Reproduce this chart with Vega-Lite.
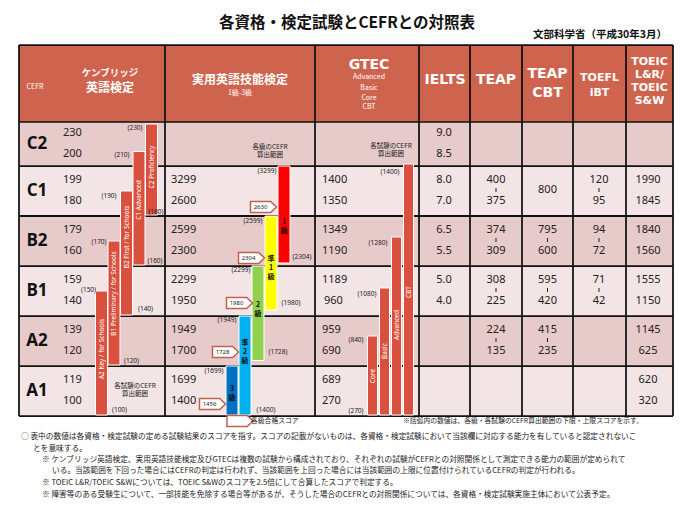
{
  "$schema": "https://vega.github.io/schema/vega-lite/v6.json",
  "width": 700,
  "height": 508,
  "padding": 0,
  "autosize": "none",
  "background": "white",
  "config": {"view": {"stroke": null}, "text": {"baseline": "middle", "font": "Noto Sans CJK JP"}},
  "datasets": {
    "rows": [
      {"row": "header", "tone": "header", "x": 19, "xe": 673, "lv": 5.88, "lve": 7.42},
      {"row": "C2", "tone": "dark", "x": 19, "xe": 673, "lv": 5, "lve": 5.88},
      {"row": "C1", "tone": "light", "x": 19, "xe": 673, "lv": 4, "lve": 5},
      {"row": "B2", "tone": "dark", "x": 19, "xe": 673, "lv": 3, "lve": 4},
      {"row": "B1", "tone": "light", "x": 19, "xe": 673, "lv": 2, "lve": 3},
      {"row": "A2", "tone": "dark", "x": 19, "xe": 673, "lv": 1, "lve": 2},
      {"row": "A1", "tone": "light", "x": 19, "xe": 673, "lv": 0, "lve": 1}
    ],
    "lines": [
      {"x": 19, "xe": 673, "lv": 0, "lve": 0, "w": "n"},
      {"x": 19, "xe": 673, "lv": 1, "lve": 1, "w": "n"},
      {"x": 19, "xe": 673, "lv": 2, "lve": 2, "w": "n"},
      {"x": 19, "xe": 673, "lv": 3, "lve": 3, "w": "n"},
      {"x": 19, "xe": 673, "lv": 4, "lve": 4, "w": "b"},
      {"x": 19, "xe": 673, "lv": 5, "lve": 5, "w": "n"},
      {"x": 19, "xe": 673, "lv": 5.88, "lve": 5.88, "w": "t"},
      {"x": 19, "xe": 673, "lv": 7.42, "lve": 7.42, "w": "n"},
      {"x": 19, "xe": 19, "lv": 0, "lve": 7.42, "w": "n"},
      {"x": 165, "xe": 165, "lv": 0, "lve": 7.42, "w": "n"},
      {"x": 315, "xe": 315, "lv": 0, "lve": 7.42, "w": "n"},
      {"x": 419, "xe": 419, "lv": 0, "lve": 7.42, "w": "n"},
      {"x": 470, "xe": 470, "lv": 0, "lve": 7.42, "w": "n"},
      {"x": 522, "xe": 522, "lv": 0, "lve": 7.42, "w": "n"},
      {"x": 573, "xe": 573, "lv": 0, "lve": 7.42, "w": "n"},
      {"x": 626, "xe": 626, "lv": 0, "lve": 7.42, "w": "n"},
      {"x": 673, "xe": 673, "lv": 0, "lve": 7.42, "w": "n"}
    ],
    "bars": [
      {"name": "A2 Key", "x": 95.5, "xe": 107.5, "lv": 0.02, "lve": 2.5},
      {"name": "B1 Preliminary", "x": 108, "xe": 120, "lv": 1.02, "lve": 3.5},
      {"name": "B2 First", "x": 120.5, "xe": 132.5, "lv": 2.02, "lve": 4.5},
      {"name": "C1 Advanced", "x": 133, "xe": 145, "lv": 3.02, "lve": 5.29},
      {"name": "C2 Proficiency", "x": 145.5, "xe": 157.5, "lv": 4.02, "lve": 5.84},
      {"name": "3級", "x": 226, "xe": 238, "lv": 0.02, "lve": 1.0},
      {"name": "準2級", "x": 239, "xe": 251, "lv": 0.02, "lve": 2.0},
      {"name": "2級", "x": 252, "xe": 264, "lv": 1.11, "lve": 3.0},
      {"name": "準1級", "x": 265, "xe": 277, "lv": 2.12, "lve": 4.0},
      {"name": "1級", "x": 278, "xe": 290, "lv": 3.06, "lve": 5.0},
      {"name": "Core", "x": 367.5, "xe": 377.5, "lv": 0.02, "lve": 1.6},
      {"name": "Basic", "x": 379.5, "xe": 389.5, "lv": 0.02, "lve": 2.56},
      {"name": "Advanced", "x": 391.5, "xe": 401.5, "lv": 0.02, "lve": 3.58},
      {"name": "CBT", "x": 403.5, "xe": 413.5, "lv": 0.02, "lve": 5.04}
    ],
    "cefr": [
      {"t": "C2", "x": 37, "lv": 5.45},
      {"t": "C1", "x": 37, "lv": 4.5},
      {"t": "B2", "x": 37, "lv": 3.5},
      {"t": "B1", "x": 37, "lv": 2.5},
      {"t": "A2", "x": 37, "lv": 1.5},
      {"t": "A1", "x": 37, "lv": 0.5}
    ],
    "cellsLeft": [
      {"t": "230", "x": 63, "lv": 5.66}, {"t": "200", "x": 63, "lv": 5.24},
      {"t": "199", "x": 63, "lv": 4.72}, {"t": "180", "x": 63, "lv": 4.31},
      {"t": "179", "x": 63, "lv": 3.72}, {"t": "160", "x": 63, "lv": 3.31},
      {"t": "159", "x": 63, "lv": 2.72}, {"t": "140", "x": 63, "lv": 2.31},
      {"t": "139", "x": 63, "lv": 1.72}, {"t": "120", "x": 63, "lv": 1.31},
      {"t": "119", "x": 63, "lv": 0.72}, {"t": "100", "x": 63, "lv": 0.31},
      {"t": "3299", "x": 171, "lv": 4.72}, {"t": "2600", "x": 171, "lv": 4.31},
      {"t": "2599", "x": 171, "lv": 3.72}, {"t": "2300", "x": 171, "lv": 3.31},
      {"t": "2299", "x": 171, "lv": 2.72}, {"t": "1950", "x": 171, "lv": 2.31},
      {"t": "1949", "x": 171, "lv": 1.72}, {"t": "1700", "x": 171, "lv": 1.31},
      {"t": "1699", "x": 171, "lv": 0.72}, {"t": "1400", "x": 171, "lv": 0.31},
      {"t": "1400", "x": 322, "lv": 4.72}, {"t": "1350", "x": 322, "lv": 4.31},
      {"t": "1349", "x": 322, "lv": 3.72}, {"t": "1190", "x": 322, "lv": 3.31},
      {"t": "1189", "x": 322, "lv": 2.72}, {"t": "960", "x": 324, "lv": 2.31},
      {"t": "959", "x": 322, "lv": 1.72}, {"t": "690", "x": 322, "lv": 1.31},
      {"t": "689", "x": 322, "lv": 0.72}, {"t": "270", "x": 322, "lv": 0.31}
    ],
    "cellsCenter": [
      {"t": "9.0", "x": 444, "lv": 5.66}, {"t": "8.5", "x": 444, "lv": 5.24},
      {"t": "8.0", "x": 444, "lv": 4.72}, {"t": "7.0", "x": 444, "lv": 4.31},
      {"t": "6.5", "x": 444, "lv": 3.72}, {"t": "5.5", "x": 444, "lv": 3.31},
      {"t": "5.0", "x": 444, "lv": 2.72}, {"t": "4.0", "x": 444, "lv": 2.31},
      {"t": "400", "x": 496, "lv": 4.72}, {"t": "375", "x": 496, "lv": 4.31},
      {"t": "374", "x": 496, "lv": 3.72}, {"t": "309", "x": 496, "lv": 3.31},
      {"t": "308", "x": 496, "lv": 2.72}, {"t": "225", "x": 496, "lv": 2.31},
      {"t": "224", "x": 496, "lv": 1.72}, {"t": "135", "x": 496, "lv": 1.31},
      {"t": "800", "x": 547.5, "lv": 4.52},
      {"t": "795", "x": 547.5, "lv": 3.72}, {"t": "600", "x": 547.5, "lv": 3.31},
      {"t": "595", "x": 547.5, "lv": 2.72}, {"t": "420", "x": 547.5, "lv": 2.31},
      {"t": "415", "x": 547.5, "lv": 1.72}, {"t": "235", "x": 547.5, "lv": 1.31},
      {"t": "120", "x": 599, "lv": 4.72}, {"t": "95", "x": 599, "lv": 4.31},
      {"t": "94", "x": 599, "lv": 3.72}, {"t": "72", "x": 599, "lv": 3.31},
      {"t": "71", "x": 599, "lv": 2.72}, {"t": "42", "x": 599, "lv": 2.31},
      {"t": "1990", "x": 648, "lv": 4.72}, {"t": "1845", "x": 648, "lv": 4.31},
      {"t": "1840", "x": 648, "lv": 3.72}, {"t": "1560", "x": 648, "lv": 3.31},
      {"t": "1555", "x": 648, "lv": 2.72}, {"t": "1150", "x": 648, "lv": 2.31},
      {"t": "1145", "x": 648, "lv": 1.72}, {"t": "625", "x": 648, "lv": 1.31},
      {"t": "620", "x": 648, "lv": 0.72}, {"t": "320", "x": 648, "lv": 0.31}
    ],
    "ticks": [
      {"x": 496, "lv": 4.48, "lve": 4.56}, {"x": 496, "lv": 3.48, "lve": 3.56},
      {"x": 496, "lv": 2.48, "lve": 2.56}, {"x": 496, "lv": 1.48, "lve": 1.56},
      {"x": 547.5, "lv": 3.48, "lve": 3.56}, {"x": 547.5, "lv": 2.48, "lve": 2.56},
      {"x": 547.5, "lv": 1.48, "lve": 1.56},
      {"x": 599, "lv": 4.48, "lve": 4.56}, {"x": 599, "lv": 3.48, "lve": 3.56},
      {"x": 599, "lv": 2.48, "lve": 2.56}
    ],
    "ranges": [
      {"t": "(230)", "x": 135, "lv": 5.76}, {"t": "(210)", "x": 122, "lv": 5.22},
      {"t": "(190)", "x": 109, "lv": 4.4}, {"t": "(170)", "x": 99, "lv": 3.48},
      {"t": "(150)", "x": 88.5, "lv": 2.53}, {"t": "(180)", "x": 156, "lv": 4.08},
      {"t": "(160)", "x": 155, "lv": 3.1}, {"t": "(140)", "x": 145.5, "lv": 2.14},
      {"t": "(120)", "x": 131.5, "lv": 1.1}, {"t": "(100)", "x": 119.5, "lv": 0.12},
      {"t": "(3299)", "x": 267, "lv": 4.9}, {"t": "(2599)", "x": 253, "lv": 3.9},
      {"t": "(2299)", "x": 241, "lv": 2.92}, {"t": "(1949)", "x": 227, "lv": 1.92},
      {"t": "(1699)", "x": 214, "lv": 0.9}, {"t": "(2304)", "x": 302, "lv": 3.18},
      {"t": "(1980)", "x": 291, "lv": 2.26}, {"t": "(1728)", "x": 278, "lv": 1.28},
      {"t": "(1400)", "x": 266, "lv": 0.12},
      {"t": "(1400)", "x": 390, "lv": 4.88}, {"t": "(1280)", "x": 378, "lv": 3.46},
      {"t": "(1080)", "x": 367, "lv": 2.44}, {"t": "(840)", "x": 356, "lv": 1.52},
      {"t": "(270)", "x": 356, "lv": 0.1}
    ],
    "barLabels": [
      {"t": "A2 Key / for Schools", "x": 101.5, "lv": 1.34},
      {"t": "B1 Preliminary / for Schools", "x": 114, "lv": 2.45},
      {"t": "B2 First / for Schools", "x": 126.5, "lv": 3.58},
      {"t": "C1 Advanced", "x": 139, "lv": 4.32},
      {"t": "C2 Proficiency", "x": 151.5, "lv": 4.98},
      {"t": "Core", "x": 372.5, "lv": 0.8},
      {"t": "Basic", "x": 384.5, "lv": 1.3},
      {"t": "Advanced", "x": 396.5, "lv": 1.82},
      {"t": "CBT", "x": 408.5, "lv": 2.48}
    ],
    "grades": [
      {"t": "1\n級", "x": 284, "lv": 3.88},
      {"t": "準\n1\n級", "x": 271, "lv": 3.14},
      {"t": "2\n級", "x": 258, "lv": 2.22},
      {"t": "準\n2\n級", "x": 245, "lv": 1.46},
      {"t": "3\n級", "x": 232, "lv": 0.54}
    ],
    "flags": [
      {"t": "2630", "x": 263.5, "lv": 4.18},
      {"t": "2304", "x": 251.5, "lv": 3.16},
      {"t": "1980", "x": 239.5, "lv": 2.26},
      {"t": "1728", "x": 225.5, "lv": 1.28},
      {"t": "1456", "x": 212.5, "lv": 0.24},
      {"t": "", "x": 240, "lv": -0.1}
    ],
    "notes": [
      {"t": "各級のCEFR", "x": 270, "lv": 5.39},
      {"t": "算出範囲", "x": 270, "lv": 5.22},
      {"t": "各試験のCEFR", "x": 391, "lv": 5.41},
      {"t": "算出範囲", "x": 391, "lv": 5.24},
      {"t": "各試験のCEFR", "x": 135, "lv": 0.61},
      {"t": "算出範囲", "x": 135, "lv": 0.44}
    ],
    "headBig": [
      {"t": "GTEC", "x": 369, "lv": 7.02},
      {"t": "IELTS", "x": 445, "lv": 6.72},
      {"t": "TEAP", "x": 496, "lv": 6.72},
      {"t": "TEAP", "x": 547.5, "lv": 6.84},
      {"t": "CBT", "x": 547.5, "lv": 6.46}
    ],
    "headMid": [
      {"t": "TOEFL", "x": 599.5, "lv": 6.76},
      {"t": "iBT", "x": 599.5, "lv": 6.46},
      {"t": "TOEIC", "x": 649.5, "lv": 7.08},
      {"t": "L&R/", "x": 649.5, "lv": 6.82},
      {"t": "TOEIC", "x": 649.5, "lv": 6.56},
      {"t": "S&W", "x": 649.5, "lv": 6.3}
    ],
    "headJa": [
      {"t": "英語検定", "x": 110, "lv": 6.56},
      {"t": "実用英語技能検定", "x": 240, "lv": 6.72}
    ],
    "headJaSmall": [
      {"t": "ケンブリッジ", "x": 110, "lv": 6.86}
    ],
    "headSmall": [
      {"t": "CEFR", "x": 35, "lv": 6.58},
      {"t": "1級-3級", "x": 240, "lv": 6.46},
      {"t": "Advanced", "x": 369, "lv": 6.78},
      {"t": "Basic", "x": 369, "lv": 6.57},
      {"t": "Core", "x": 369, "lv": 6.37},
      {"t": "CBT", "x": 369, "lv": 6.18}
    ],
    "title": [
      {"t": "各資格・検定試験とCEFRとの対照表", "x": 347, "lv": 7.86}
    ],
    "subtitle": [
      {"t": "文部科学省（平成30年3月）", "x": 667, "lv": 7.62}
    ],
    "legend": [
      {"t": "各級合格スコア", "x": 251, "lv": -0.1},
      {"t": "※括弧内の数値は、各級・各試験のCEFR算出範囲の下限・上限スコアを示す。", "x": 403, "lv": -0.1}
    ],
    "footnotes": [
      {"t": "○ 表中の数値は各資格・検定試験の定める試験結果のスコアを指す。スコアの記載がないものは、各資格・検定試験において当該欄に対応する能力を有していると認定されないこ", "x": 21, "lv": -0.42},
      {"t": "とを意味する。", "x": 33, "lv": -0.65},
      {"t": "※ ケンブリッジ英語検定、実用英語技能検定及びGTECは複数の試験から構成されており、それぞれの試験がCEFRとの対照関係として測定できる能力の範囲が定められて", "x": 42, "lv": -0.88},
      {"t": "いる。当該範囲を下回った場合にはCEFRの判定は行われず、当該範囲を上回った場合には当該範囲の上限に位置付けられているCEFRの判定が行われる。", "x": 52, "lv": -1.1},
      {"t": "※ TOEIC L&R/TOEIC S&Wについては、TOEIC S&Wのスコアを2.5倍にして合算したスコアで判定する。", "x": 42, "lv": -1.34},
      {"t": "※ 障害等のある受験生について、一部技能を免除する場合等があるが、そうした場合のCEFRとの対照関係については、各資格・検定試験実施主体において公表予定。", "x": 42, "lv": -1.58}
    ]
  },
  "encoding": {
    "x": {"field": "x", "type": "quantitative", "scale": {"domain": [0, 700], "nice": false, "zero": false}, "axis": null},
    "y": {"field": "lv", "type": "quantitative", "scale": {"domain": [-1.84, 8.32], "nice": false, "zero": false}, "axis": null}
  },
  "resolve": {"scale": {"color": "independent", "strokeWidth": "independent"}},
  "layer": [
    {
      "data": {"name": "rows"},
      "mark": {"type": "rect"},
      "encoding": {
        "x2": {"field": "xe"},
        "y2": {"field": "lve"},
        "color": {"field": "tone", "type": "nominal", "scale": {"domain": ["header", "dark", "light"], "range": ["#cf644e", "#e7caca", "#f3e5e5"]}, "legend": null}
      }
    },
    {
      "data": {"name": "lines"},
      "mark": {"type": "rule", "color": "#111111"},
      "encoding": {
        "x2": {"field": "xe"},
        "y2": {"field": "lve"},
        "strokeWidth": {"field": "w", "type": "nominal", "scale": {"domain": ["t", "n", "b"], "range": [1.5, 2, 3]}, "legend": null}
      }
    },
    {
      "data": {"name": "bars"},
      "mark": {"type": "rect", "stroke": "white", "strokeWidth": 1},
      "encoding": {
        "x2": {"field": "xe"},
        "y2": {"field": "lve"},
        "color": {"field": "name", "type": "nominal", "scale": {"domain": ["A2 Key", "B1 Preliminary", "B2 First", "C1 Advanced", "C2 Proficiency", "3級", "準2級", "2級", "準1級", "1級", "Core", "Basic", "Advanced", "CBT"], "range": ["#d9503e", "#d9503e", "#d9503e", "#d9503e", "#d9503e", "#0070c0", "#00b0f0", "#92d050", "#ffff00", "#ff0000", "#d9503e", "#d9503e", "#d9503e", "#d9503e"]}, "legend": null}
      }
    },
    {
      "data": {"name": "ticks"},
      "mark": {"type": "rule", "color": "#222222", "strokeWidth": 1},
      "encoding": {"y2": {"field": "lve"}}
    },
    {
      "data": {"name": "flags"},
      "mark": {"type": "point", "shape": "M-1,-0.42L0.55,-0.42L1,0L0.55,0.42L-1,0.42Z", "filled": true, "fill": "white", "stroke": "#c0604d", "strokeWidth": 1.5, "size": 676, "opacity": 1}
    },
    {
      "data": {"name": "flags"},
      "mark": {"type": "text", "fontSize": 6, "xOffset": -3, "color": "#222222", "font": "Noto Sans"},
      "encoding": {"text": {"field": "t"}}
    },
    {
      "data": {"name": "cefr"},
      "mark": {"type": "text", "fontSize": 17, "fontWeight": "bold", "align": "center", "color": "#111111", "font": "Open Sans"},
      "encoding": {"text": {"field": "t"}}
    },
    {
      "data": {"name": "cellsLeft"},
      "mark": {"type": "text", "fontSize": 11, "align": "left", "color": "#222222", "font": "Noto Sans"},
      "encoding": {"text": {"field": "t"}}
    },
    {
      "data": {"name": "cellsCenter"},
      "mark": {"type": "text", "fontSize": 11, "align": "center", "color": "#222222", "font": "Noto Sans"},
      "encoding": {"text": {"field": "t"}}
    },
    {
      "data": {"name": "ranges"},
      "mark": {"type": "text", "fontSize": 6.5, "align": "center", "color": "#222222", "font": "Noto Sans"},
      "encoding": {"text": {"field": "t"}}
    },
    {
      "data": {"name": "barLabels"},
      "mark": {"type": "text", "fontSize": 6.5, "align": "center", "angle": 270, "color": "white", "font": "Noto Sans"},
      "encoding": {"text": {"field": "t"}}
    },
    {
      "data": {"name": "grades"},
      "mark": {"type": "text", "fontSize": 7, "fontWeight": "bold", "align": "center", "lineBreak": "\n", "lineHeight": 9, "color": "#111111"},
      "encoding": {"text": {"field": "t"}}
    },
    {
      "data": {"name": "notes"},
      "mark": {"type": "text", "fontSize": 6.5, "align": "center", "color": "#222222"},
      "encoding": {"text": {"field": "t"}}
    },
    {
      "data": {"name": "headBig"},
      "mark": {"type": "text", "fontSize": 14, "fontWeight": "bold", "align": "center", "color": "white", "font": "DejaVu Sans"},
      "encoding": {"text": {"field": "t"}}
    },
    {
      "data": {"name": "headMid"},
      "mark": {"type": "text", "fontSize": 11, "fontWeight": "bold", "align": "center", "color": "white", "font": "DejaVu Sans"},
      "encoding": {"text": {"field": "t"}}
    },
    {
      "data": {"name": "headJa"},
      "mark": {"type": "text", "fontSize": 12, "fontWeight": "bold", "align": "center", "color": "white"},
      "encoding": {"text": {"field": "t"}}
    },
    {
      "data": {"name": "headJaSmall"},
      "mark": {"type": "text", "fontSize": 9.5, "fontWeight": "bold", "align": "center", "color": "white"},
      "encoding": {"text": {"field": "t"}}
    },
    {
      "data": {"name": "headSmall"},
      "mark": {"type": "text", "fontSize": 7, "align": "center", "color": "white", "font": "Noto Sans CJK JP"},
      "encoding": {"text": {"field": "t"}}
    },
    {
      "data": {"name": "title"},
      "mark": {"type": "text", "fontSize": 15.5, "fontWeight": "bold", "align": "center", "color": "#111111"},
      "encoding": {"text": {"field": "t"}}
    },
    {
      "data": {"name": "subtitle"},
      "mark": {"type": "text", "fontSize": 10.5, "fontWeight": "bold", "align": "right", "color": "#111111"},
      "encoding": {"text": {"field": "t"}}
    },
    {
      "data": {"name": "legend"},
      "mark": {"type": "text", "fontSize": 6.8, "align": "left", "color": "#222222"},
      "encoding": {"text": {"field": "t"}}
    },
    {
      "data": {"name": "footnotes"},
      "mark": {"type": "text", "fontSize": 7.7, "align": "left", "color": "#222222"},
      "encoding": {"text": {"field": "t"}}
    }
  ]
}
